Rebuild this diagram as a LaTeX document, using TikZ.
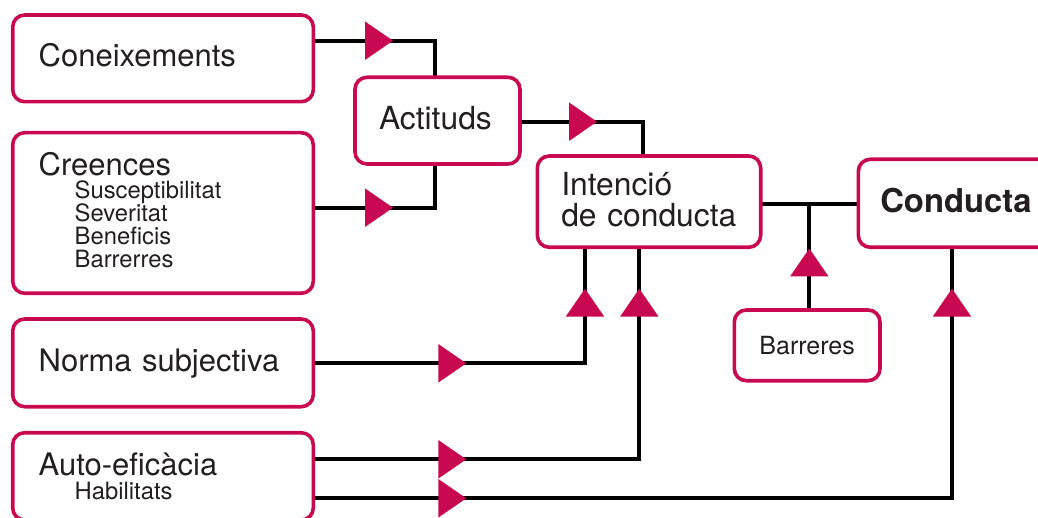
\documentclass[tikz,border=0pt]{standalone}
\usepackage{fontspec}
\setmainfont{TeX Gyre Heros}
\usetikzlibrary{decorations.markings}
\definecolor{pinkc}{RGB}{200,8,80}
\definecolor{txt}{RGB}{35,31,32}
\pgfdeclarelayer{bg}
\pgfsetlayers{bg,main}
\newcommand\fbig{\fontsize{31}{31}\selectfont}
\newcommand\fmid{\fontsize{31.8}{31}\selectfont}
\newcommand\fsmall{\fontsize{23.8}{23}\selectfont}
\newcommand\fsmallb{\fontsize{23.8}{24.2}\selectfont}
\newcommand\fbar{\fontsize{25}{25}\selectfont}
\newcommand\fbold{\fontsize{32.8}{33}\selectfont\bfseries}
\begin{document}
\begin{tikzpicture}[x=1pt,y=-1pt,
  box/.style={draw=pinkc, line width=3.6pt, rounded corners=12pt, fill=white,
    outer sep=0pt, inner xsep=0pt, inner ysep=0pt, anchor=north west,
    align=left, text=txt},
  conn/.style={draw=black, line width=4pt},
  tri/.style={postaction={decorate, decoration={markings,
    mark=at position #1 with {\fill[pinkc] (0,-19.3) -- (28,0) -- (0,19.3) -- cycle;}}}},
  tritwo/.style 2 args={postaction={decorate, decoration={markings,
    mark=at position #1 with {\fill[pinkc] (0,-19.3) -- (28,0) -- (0,19.3) -- cycle;},
    mark=at position #2 with {\fill[pinkc] (0,-19.3) -- (28,0) -- (0,19.3) -- cycle;}}}},
]
\useasboundingbox (0,0) rectangle (1038,518);
\clip (0,0) rectangle (1038,518);

% boxes
\node[box, font=\fbig, minimum width=300.6pt, minimum height=86.7pt,
  text width=248.6pt, text height=22pt, text depth=5.3pt] (con) at (12.7,15) {Coneixements};
\node[box, font=\fbig, minimum width=300.6pt, minimum height=160.6pt,
  text width=248.6pt, text height=22pt, text depth=96.6pt] (cre) at (12.7,132.7)
  {Creences\\\fsmall\hspace*{36pt}Susceptibilitat\\\hspace*{36pt}Severitat\\\hspace*{36pt}Beneficis\\\hspace*{36pt}Barrerres\par};
\node[box, font=\fbig, minimum width=300.6pt, minimum height=87.7pt,
  text width=248.6pt, text height=22pt, text depth=4.3pt] (norm) at (12.7,319) {Norma subjectiva};
\node[box, font=\fbig, minimum width=300.6pt, minimum height=87.3pt,
  text width=248.6pt, text height=22pt, text depth=24.6pt] (auto) at (12.7,432.7)
  {Auto-eficàcia\\\fsmallb\hspace*{36pt}Habilitats\par};
\node[box, font=\fmid, minimum width=165pt, minimum height=86.7pt,
  text width=117pt, text height=22pt, text depth=4.7pt] (act) at (355,77.3) {Actituds};
\node[box, font=\fmid, minimum width=223.4pt, minimum height=91.3pt,
  text width=175.4pt, text height=22pt, text depth=34pt] (int) at (537.3,156) {Intenció\\de conducta};
\node[box, font=\fbold, minimum width=201.7pt, minimum height=88pt,
  text width=157.7pt, text height=24pt, text depth=5.2pt] (cond) at (858.3,159.3) {Conducta};
\node[box, font=\fbar, align=center, minimum width=145.7pt, minimum height=70.7pt,
  text width=145.7pt, text height=20pt, text depth=0.7pt] (bar) at (734.3,310) {Barreres};

% bend points
\coordinate (j1) at (435,40.7);
\coordinate (j2) at (435,207.7);
\coordinate (j3) at (642.7,121.7);
\coordinate (jb) at (809.3,204.3);
\coordinate (j6) at (585,363.3);
\coordinate (j7) at (639.3,459.3);
\coordinate (j8) at (952,498.3);

\begin{pgfonlayer}{bg}
\draw[conn, tri=51.7pt] (con.east |- j1) -- (j1) -- (act.north -| j1);
\draw[conn, tri=51.7pt] (cre.east |- j2) -- (j2) -- (act.south -| j2);
\draw[conn, tri=49pt] (act.east |- j3) -- (j3) -- (int.north -| j3);
\draw[conn] (int.east |- jb) -- (cond.west |- jb);
\draw[conn, tri=33.5pt] (bar.north -| jb) -- (jb);
\draw[conn, tritwo={125pt}{-69.4pt}] (norm.east |- j6) -- (j6) -- (int.south -| j6);
\draw[conn, tritwo={125pt}{-69.4pt}] (auto.east |- j7) -- (j7) -- (int.south -| j7);
\draw[conn, tritwo={125pt}{-69.4pt}] (auto.east |- j8) -- (j8) -- (cond.south -| j8);
\end{pgfonlayer}
\end{tikzpicture}
\end{document}
